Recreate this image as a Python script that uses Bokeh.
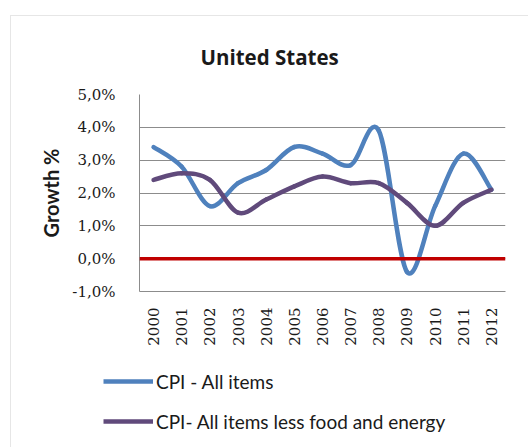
import math
from bokeh.plotting import figure
from bokeh.models import Range1d, FixedTicker, Legend, LegendItem, Span, Title
from bokeh.embed import file_html
from bokeh.resources import INLINE

# ---- data ----
years = ["2000", "2001", "2002", "2003", "2004", "2005", "2006",
         "2007", "2008", "2009", "2010", "2011", "2012"]
cpi_all = [3.4, 2.8, 1.6, 2.3, 2.7, 3.4, 3.2, 2.85, 3.9, -0.4, 1.6, 3.2, 2.1]
cpi_core = [2.4, 2.6, 2.4, 1.4, 1.8, 2.2, 2.5, 2.3, 2.3, 1.7, 1.0, 1.7, 2.1]
y_ticks = [-1, 0, 1, 2, 3, 4, 5]
y_tick_labels = ["-1,0%", "0,0%", "1,0%", "2,0%", "3,0%", "4,0%", "5,0%"]
series_names = ["CPI - All items", "CPI- All items less food and energy"]
chart_title = "United States"
y_title = "Growth %"

BLUE = "#4f81bd"
PURPLE = "#604a7b"
RED = "#c00000"
GRID = "#8c8c8c"
FRAME = "1px solid #e6e6e6"


def smooth_segments(xs, ys):
    """Bezier segments (Excel-like smoothed line) through the data points."""
    n = len(xs)
    out = {k: [] for k in ["x0", "y0", "x1", "y1", "cx0", "cy0", "cx1", "cy1"]}
    for i in range(n - 1):
        p0 = (xs[max(i - 1, 0)], ys[max(i - 1, 0)])
        p1 = (xs[i], ys[i])
        p2 = (xs[i + 1], ys[i + 1])
        p3 = (xs[min(i + 2, n - 1)], ys[min(i + 2, n - 1)])
        out["x0"].append(p1[0]); out["y0"].append(p1[1])
        out["x1"].append(p2[0]); out["y1"].append(p2[1])
        out["cx0"].append(p1[0] + (p2[0] - p0[0]) / 6.0)
        out["cy0"].append(p1[1] + (p2[1] - p0[1]) / 6.0)
        out["cx1"].append(p2[0] - (p3[0] - p1[0]) / 6.0)
        out["cy1"].append(p2[1] - (p3[1] - p1[1]) / 6.0)
    return out


xpos = list(range(len(years)))

p = figure(width=518, height=340, output_backend="svg", toolbar_location=None,
           x_range=Range1d(-0.5, len(years) - 0.5), y_range=Range1d(-1, 5),
           min_border_left=128, min_border_right=24, min_border_top=77,
           min_border_bottom=65, margin=(15, 0, 0, 10))
p.styles = {"border-left": FRAME, "border-top": FRAME}
p.outline_line_color = None
p.background_fill_color = "white"
p.border_fill_color = "white"

p.title = Title(text=chart_title, text_font="Open Sans", text_font_size="20.5px",
                text_font_style="bold", text_color="#1a1a1a", align="left",
                offset=61, standoff=48)

# grid
p.xgrid.visible = False
p.ygrid.ticker = FixedTicker(ticks=y_ticks)
p.ygrid.grid_line_color = GRID
p.ygrid.grid_line_width = 1

# axes
p.yaxis.ticker = FixedTicker(ticks=y_ticks)
p.yaxis.major_label_overrides = {t: l for t, l in zip(y_ticks, y_tick_labels)}
p.yaxis.major_label_text_font = "DejaVu Serif"
p.yaxis.major_label_text_font_size = "15px"
p.yaxis.major_label_text_color = "#1a1a1a"
p.yaxis.major_label_standoff = 18
p.yaxis.axis_line_color = GRID
p.yaxis.major_tick_line_color = None
p.yaxis.minor_tick_line_color = None
p.yaxis.axis_label = y_title
p.yaxis.axis_label_text_font = "Lato"
p.yaxis.axis_label_text_font_style = "bold"
p.yaxis.axis_label_text_font_size = "20px"
p.yaxis.axis_label_text_color = "#1a1a1a"
p.yaxis.axis_label_standoff = 6

p.xaxis.ticker = FixedTicker(ticks=xpos)
p.xaxis.major_label_overrides = {i: y for i, y in zip(xpos, years)}
p.xaxis.major_label_orientation = math.pi / 2
p.xaxis.major_label_text_font = "DejaVu Serif"
p.xaxis.major_label_text_font_size = "15px"
p.xaxis.major_label_text_color = "#1a1a1a"
p.xaxis.major_label_standoff = 10
p.xaxis.axis_line_color = GRID
p.xaxis.major_tick_line_color = None
p.xaxis.minor_tick_line_color = None

# zero line
p.add_layout(Span(location=0, dimension="width", line_color=RED, line_width=3.5))

# smoothed series
seg_all = smooth_segments(xpos, cpi_all)
seg_core = smooth_segments(xpos, cpi_core)
p.bezier(line_color=BLUE, line_width=4.5, line_cap="round", **seg_all)
p.bezier(line_color=PURPLE, line_width=4.5, line_cap="round", **seg_core)

# legend panel: a separate figure whose frame fills it; the proxy lines
# hold the series but lie outside its visible range
leg = figure(width=518, height=92, output_backend="svg", toolbar_location=None,
             x_range=Range1d(-0.5, len(years) - 0.5), y_range=Range1d(100, 101),
             min_border=0, min_border_left=0, min_border_right=0,
             min_border_top=0, min_border_bottom=0, margin=(0, 0, 0, 10))
leg.styles = {"border-left": FRAME}
leg.xaxis.visible = False
leg.yaxis.visible = False
leg.grid.visible = False
leg.outline_line_color = None
l1 = leg.line(x=xpos, y=cpi_all, line_color=BLUE, line_width=4.5)
l2 = leg.line(x=xpos, y=cpi_core, line_color=PURPLE, line_width=4.5)
legend = Legend(items=[LegendItem(label=series_names[0], renderers=[l1]),
                       LegendItem(label=series_names[1], renderers=[l2])],
                location=(92, 14), orientation="vertical",
                padding=0, margin=0, spacing=16,
                glyph_width=50, glyph_height=24, label_height=24,
                label_standoff=3, label_text_font="Lato",
                label_text_font_size="19px", label_text_color="#1a1a1a",
                border_line_color=None, background_fill_alpha=0)
leg.add_layout(legend, "center")

open("out.html", "w").write(file_html([p, leg], INLINE))
